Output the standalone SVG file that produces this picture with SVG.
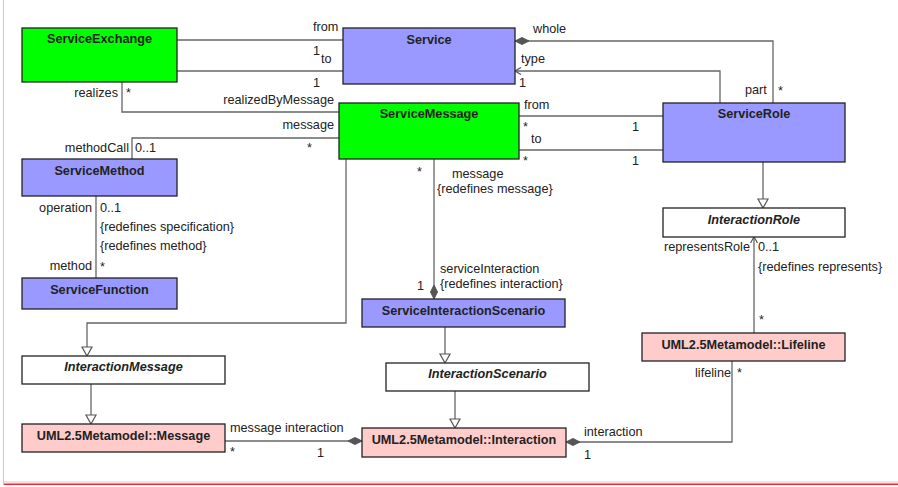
<svg xmlns="http://www.w3.org/2000/svg" width="898" height="487" viewBox="0 0 898 487">
<defs>
<style>
text{font-family:"Liberation Sans",Arial,sans-serif;font-size:12.7px;fill:#222}
.t{font-weight:bold;text-anchor:middle}
.i{font-style:italic}
.e{text-anchor:end}
.box{stroke:#222;stroke-width:1.3}
.g{fill:#00FF00}
.b{fill:#9999FF}
.p{fill:#FFCCCC}
.w{fill:#FFFFFF}
.c path{fill:none;stroke:#666;stroke-width:1.3}
</style>
<marker id="dia" markerUnits="userSpaceOnUse" markerWidth="20" markerHeight="20" refX="0" refY="0" orient="auto" overflow="visible">
<path d="M0,0 L7,-3.5 L14,0 L7,3.5 Z" fill="#555" stroke="#555" stroke-width="1"/>
</marker>
<marker id="tri" markerUnits="userSpaceOnUse" markerWidth="20" markerHeight="20" refX="0" refY="0" orient="auto" overflow="visible">
<path d="M0,0 L-9,-5 L-9,5 Z" fill="#fff" stroke="#555" stroke-width="1.2"/>
</marker>
<marker id="arr" markerUnits="userSpaceOnUse" markerWidth="20" markerHeight="20" refX="0" refY="0" orient="auto" overflow="visible">
<path d="M-6,-3.5 L0,0 L-6,3.5" fill="none" stroke="#555" stroke-width="1.2"/>
</marker>
</defs>
<rect x="0" y="0" width="898" height="487" fill="#fff"/>
<g id="frame">
<line x1="3.5" y1="0" x2="3.5" y2="485" stroke="#F2B8BC" stroke-width="1"/>
<rect x="4" y="481" width="894" height="2.5" fill="#F9DDE0"/>
<line x1="4" y1="484.3" x2="898" y2="484.3" stroke="#E0303C" stroke-width="1.5"/>
</g>
<g id="connectors" class="c">
<path d="M177,40 H343"/>
<path d="M177,71 H343"/>
<path d="M515,41 H773 V103" marker-start="url(#dia)"/>
<path d="M720,103 V71 H515" marker-end="url(#arr)"/>
<path d="M122,82 V112 H339"/>
<path d="M132,159 V138 H339"/>
<path d="M519,116 H663"/>
<path d="M519,150 H663"/>
<path d="M346,159 V323 H87 V356" marker-end="url(#tri)"/>
<path d="M96,196 V278"/>
<path d="M434,299 V159" marker-start="url(#dia)"/>
<path d="M763,162 V208" marker-end="url(#tri)"/>
<path d="M754,333 V237" marker-end="url(#arr)"/>
<path d="M445,327 V363" marker-end="url(#tri)"/>
<path d="M455,391 V428" marker-end="url(#tri)"/>
<path d="M91,384 V424" marker-end="url(#tri)"/>
<path d="M362,441 H225" marker-start="url(#dia)"/>
<path d="M566,442 H732 V361" marker-start="url(#dia)"/>
</g>
<g id="labels">
<text x="313" y="31">from</text>
<text x="313" y="55">1</text>
<text x="321" y="63">to</text>
<text x="313" y="87">1</text>
<text x="533" y="33">whole</text>
<text x="521" y="63">type</text>
<text x="519" y="87">1</text>
<text x="745" y="94">part</text>
<text x="778" y="95">*</text>
<text class="e" x="118" y="97">realizes</text>
<text x="126" y="97">*</text>
<text class="e" x="334" y="103.5">realizedByMessage</text>
<text class="e" x="334" y="129">message</text>
<text class="e" x="129" y="152">methodCall</text>
<text x="135" y="152">0..1</text>
<text x="307" y="152">*</text>
<text x="524" y="108.5">from</text>
<text x="523" y="131">*</text>
<text x="632" y="131">1</text>
<text x="531" y="142.5">to</text>
<text x="523" y="165">*</text>
<text x="632" y="165">1</text>
<text x="417" y="176">*</text>
<text x="452" y="178">message</text>
<text x="437" y="193">{redefines message}</text>
<text x="440" y="272.5">serviceInteraction</text>
<text x="440" y="287.5">{redefines interaction}</text>
<text x="417" y="290">1</text>
<text class="e" x="92" y="212">operation</text>
<text x="100" y="212">0..1</text>
<text x="100" y="231">{redefines specification}</text>
<text x="100" y="249.5">{redefines method}</text>
<text class="e" x="92" y="270">method</text>
<text x="100" y="271">*</text>
<text class="e" x="750" y="251">representsRole</text>
<text x="758" y="251">0..1</text>
<text x="758" y="270.5">{redefines represents}</text>
<text x="759" y="324">*</text>
<text class="e" x="731" y="376.5">lifeline</text>
<text x="737" y="376.5">*</text>
<text x="230" y="432">message interaction</text>
<text x="230" y="456">*</text>
<text x="317" y="456.5">1</text>
<text x="584" y="435.5">interaction</text>
<text x="584" y="458.5">1</text>
</g>
<g id="ServiceExchange"><rect class="box g" x="22" y="28" width="155" height="54"/><text class="t" x="99.5" y="43">ServiceExchange</text></g>
<g id="Service"><rect class="box b" x="343" y="28" width="172" height="56"/><text class="t" x="429" y="43.5">Service</text></g>
<g id="ServiceMessage"><rect class="box g" x="339" y="103" width="180" height="56"/><text class="t" x="429" y="118">ServiceMessage</text></g>
<g id="ServiceRole"><rect class="box b" x="663" y="103" width="182" height="59"/><text class="t" x="754" y="118">ServiceRole</text></g>
<g id="InteractionRole"><rect class="box w" x="663" y="208" width="182" height="29"/><text class="t i" x="754" y="224">InteractionRole</text></g>
<g id="ServiceMethod"><rect class="box b" x="22" y="159" width="155" height="37"/><text class="t" x="99.5" y="175">ServiceMethod</text></g>
<g id="ServiceFunction"><rect class="box b" x="22" y="278" width="155" height="31"/><text class="t" x="99.5" y="294">ServiceFunction</text></g>
<g id="ServiceInteractionScenario"><rect class="box b" x="362" y="299" width="203" height="28"/><text class="t" x="463.5" y="315">ServiceInteractionScenario</text></g>
<g id="InteractionMessage"><rect class="box w" x="22" y="356" width="203" height="28"/><text class="t i" x="123.5" y="371">InteractionMessage</text></g>
<g id="InteractionScenario"><rect class="box w" x="386" y="363" width="203" height="28"/><text class="t i" x="487.5" y="378">InteractionScenario</text></g>
<g id="Message"><rect class="box p" x="22" y="424" width="203" height="28"/><text class="t" x="123.5" y="440">UML2.5Metamodel::Message</text></g>
<g id="Interaction"><rect class="box p" x="362" y="428" width="204" height="29"/><text class="t" x="464" y="444">UML2.5Metamodel::Interaction</text></g>
<g id="Lifeline"><rect class="box p" x="642" y="333" width="203" height="28"/><text class="t" x="743.5" y="348.5">UML2.5Metamodel::Lifeline</text></g>
</svg>
